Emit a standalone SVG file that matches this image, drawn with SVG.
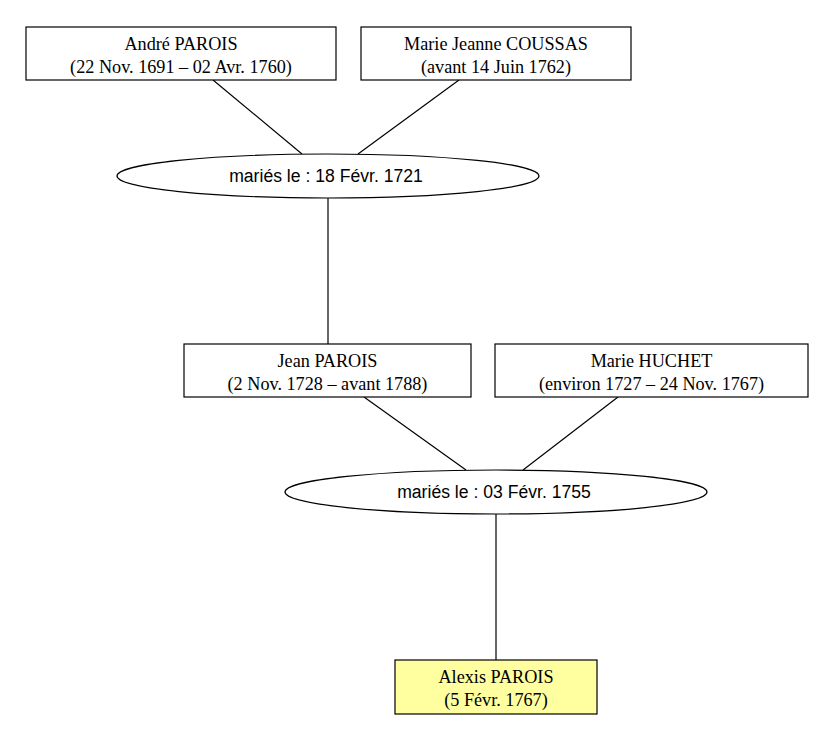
<svg xmlns="http://www.w3.org/2000/svg" width="835" height="741" viewBox="0 0 835 741">
<style>
.box{fill:#ffffff;stroke:#000000;stroke-width:1.2}
.me{fill:#ffffa0}
.ell{fill:#ffffff;stroke:#000000;stroke-width:1.2}
.p{font-family:"Liberation Serif","Times New Roman",serif;font-size:18.2px;fill:#000;text-anchor:middle}
.m{font-family:"Liberation Sans",Arial,sans-serif;font-size:17.6px;fill:#000;text-anchor:middle}
.e{stroke:#000000;stroke-width:1.2;fill:none}
</style>
<rect width="835" height="741" fill="#ffffff"/>
<g id="connectors">
<line class="e" x1="213" y1="80" x2="302" y2="154"/>
<line class="e" x1="459" y1="80" x2="358" y2="154"/>
<line class="e" x1="328" y1="198" x2="328" y2="270"/>
<line class="e" x1="328" y1="270" x2="328" y2="344"/>
<line class="e" x1="364" y1="397" x2="466" y2="470"/>
<line class="e" x1="618" y1="397" x2="523" y2="470"/>
<line class="e" x1="496" y1="514" x2="496" y2="587"/>
<line class="e" x1="496" y1="587" x2="496" y2="660"/>
</g>
<g id="andre">
<rect class="box" x="26" y="27" width="310" height="53"/>
<text class="p" x="181" y="50">André PAROIS</text>
<text class="p" x="181" y="73">(22 Nov. 1691 – 02 Avr. 1760)</text>
</g>
<g id="mariejeanne">
<rect class="box" x="361" y="27" width="270" height="53"/>
<text class="p" x="496" y="50">Marie Jeanne COUSSAS</text>
<text class="p" x="496" y="73">(avant 14 Juin 1762)</text>
</g>
<g id="mariage1">
<ellipse class="ell" cx="328" cy="176" rx="211" ry="22"/>
<text class="m" x="326" y="182">mariés le : 18 Févr. 1721</text>
</g>
<g id="jean">
<rect class="box" x="184" y="344" width="287" height="53"/>
<text class="p" x="327.5" y="367">Jean PAROIS</text>
<text class="p" x="327.5" y="390">(2 Nov. 1728 – avant 1788)</text>
</g>
<g id="mariehuchet">
<rect class="box" x="495" y="344" width="313" height="53"/>
<text class="p" x="651.5" y="367">Marie HUCHET</text>
<text class="p" x="651.5" y="390">(environ 1727 – 24 Nov. 1767)</text>
</g>
<g id="mariage2">
<ellipse class="ell" cx="496" cy="492" rx="211" ry="22"/>
<text class="m" x="494" y="498">mariés le : 03 Févr. 1755</text>
</g>
<g id="alexis">
<rect class="box me" x="395" y="660" width="202" height="54"/>
<text class="p" x="496" y="683">Alexis PAROIS</text>
<text class="p" x="496" y="706">(5 Févr. 1767)</text>
</g>
</svg>
